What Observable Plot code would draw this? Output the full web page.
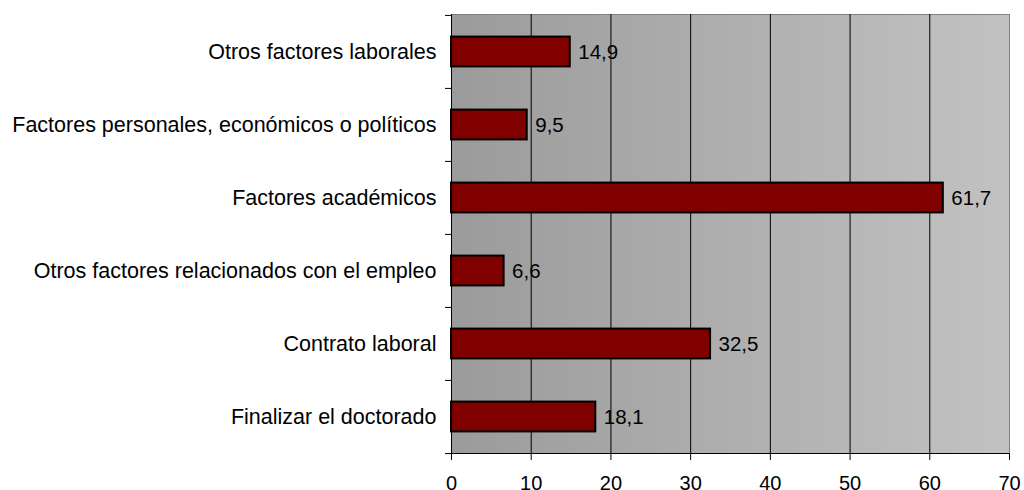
<!DOCTYPE html>
<html>
<head>
<meta charset="utf-8">
<script src="https://cdn.jsdelivr.net/npm/d3@7"></script>
<script src="https://cdn.jsdelivr.net/npm/@observablehq/plot@0.6"></script>
<style>
  html, body { margin: 0; padding: 0; background: white; }
  #chart svg { display: block; }
</style>
</head>
<body>
<div id="chart"></div>
<script>
const categories = [
  "Otros factores laborales",
  "Factores personales, económicos o políticos",
  "Factores académicos",
  "Otros factores relacionados con el empleo",
  "Contrato laboral",
  "Finalizar el doctorado"
];
const values = [14.9, 9.5, 61.7, 6.6, 32.5, 18.1];
const xTicks = [0, 10, 20, 30, 40, 50, 60, 70];

const data = categories.map((c, i) => ({cat: c, val: values[i]}));
const fmt = v => v.toFixed(1).replace(".", ",");

const H = 490, mTop = 14, mBottom = 37;
const step = (H - mTop - mBottom) / categories.length;
const barH = 30;
const inset = (step - barH) / 2;

const svg = Plot.plot({
  width: 1024,
  height: H,
  marginLeft: 451,
  marginRight: 15,
  marginTop: mTop,
  marginBottom: mBottom,
  style: {fontFamily: "'Liberation Sans', Arial, sans-serif", fontSize: "20px", background: "white", color: "black", overflow: "hidden"},
  x: {domain: [0, 70], ticks: xTicks},
  y: {domain: categories, padding: 0},
  marks: [
    Plot.frame({fill: "url(#bgGrad)", stroke: "#808080"}),
    Plot.gridX(xTicks.filter(t => t > 0 && t < 70), {stroke: "black", strokeOpacity: 1, strokeWidth: 1}),
    Plot.barX(data, {y: "cat", x: "val", fill: "#800000", stroke: "black", strokeWidth: 2, insetTop: inset, insetBottom: inset}),
    Plot.text(data, {y: "cat", x: "val", text: d => fmt(d.val), textAnchor: "start", dx: 8, fontSize: 20.5, fill: "black"}),
    Plot.ruleX([0], {stroke: "black", strokeWidth: 1}),
    Plot.frame({anchor: "bottom", stroke: "black"}),
    Plot.axisX({ticks: xTicks, tickSize: 7, tickPadding: 15, fontSize: 20, label: null, tickFormat: d => String(d)}),
    Plot.axisY({tickSize: 0, tickPadding: 15, fontSize: 21.5, label: null}),
    Plot.axisY({tickSize: 6, text: null, label: null, dy: -step / 2}),
    Plot.axisY({ticks: [categories[categories.length - 1]], tickSize: 6, text: null, label: null, dy: step / 2})
  ]
});

d3.select(svg).insert("defs", ":first-child").html(
  `<linearGradient id="bgGrad" x1="0" y1="0" x2="1" y2="0">
     <stop offset="0" stop-color="#9b9b9b"/>
     <stop offset="1" stop-color="#c2c2c2"/>
   </linearGradient>`
);

document.getElementById("chart").appendChild(svg);
</script>
</body>
</html>
